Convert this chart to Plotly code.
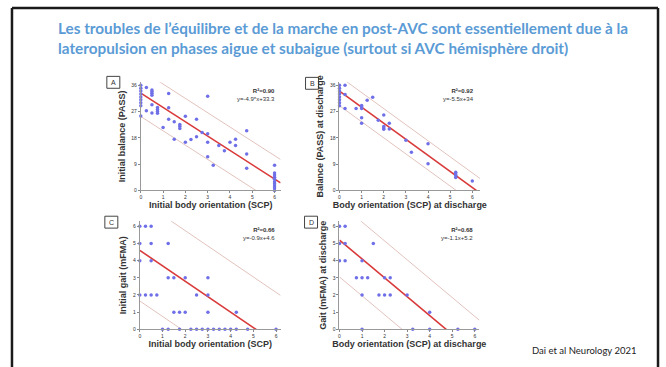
import plotly.graph_objects as go
import numpy as np

W, H = 666, 367

title_lines = ["Les troubles de l’équilibre et de la marche en post-AVC sont essentiellement due à la",
               "lateropulsion en phases aigue et subaigue (surtout si AVC hémisphère droit)"]
citation = "Dai et al Neurology 2021"

# Panel A: initial balance vs initial body orientation
a_x = [0]*9 + [0.25]*2 + [0.5]*6 + [0.75]*4 + [1] + [1.25]*3 + [1.5]*2 + [1.75]*3 + [2]*2 + [2.25] + [2.5]*2 + [2.75] + [3]*4 + [3.25, 3.5, 3.75, 4] + [4.25]*2 + [4.75]*3 + [6]*10
a_y = [36, 35, 34, 33, 32, 31, 30, 29, 25.5,
       35.2, 27.3,
       34.4, 33.9, 33.3, 32.6, 29.3, 26.5,
       28.4, 27.7, 27, 26.4,
       21.5,
       33.2, 28.3, 24.4,
       23.5, 17.5,
       22.6, 22, 21.2,
       25.4, 16.5,
       17.4,
       24.4, 18.4,
       19.8,
       32.2, 19.4, 16.5, 11.5,
       8.6, 15.4, 13.6, 16.5,
       17.5, 15.4,
       20.4, 12.5, 7.6,
       8.6, 6, 5.3, 4.5, 3.8, 3, 2.3, 1.5, 0.8, 0]

# Panel B: balance vs body orientation at discharge
b_x = [0]*8 + [0.25]*3 + [0.75] + [1]*5 + [1.25, 1.5, 1.75] + [2]*4 + [2.25]*2 + [3, 3.25] + [4]*2 + [5.25]*4 + [6]
b_y = [36, 35, 34, 33, 32, 31, 30, 29,
       36, 32.8, 28,
       28,
       29.1, 28.6, 28, 24.9, 23,
       30.9, 31.9, 24,
       25.8, 21.9, 21.4, 20.9,
       23, 21,
       17.2, 13.1,
       16, 9.1,
       6.2, 5.6, 5.1, 4.4,
       3.2]

# Panel C: initial gait vs initial body orientation
c_x = [0, 0.25, 0.5,
       0, 0.5, 1.25,
       0, 0.5,
       1.25, 1.5, 2, 3,
       0, 0.25, 0.5, 0.75, 2.5, 3,
       1.5, 1.75, 2, 3, 4.25,
       1, 1.25, 1.75, 2.25, 2.5, 2.75, 3, 3.25, 3.5, 3.75, 4, 4.25, 4.75, 6]
c_y = [6, 6, 6,
       5, 5, 5,
       4, 4,
       3, 3, 3, 3,
       2, 2, 2, 2, 2, 2,
       1, 1, 1, 1, 1,
       0, 0, 0, 0, 0, 0, 0, 0, 0, 0, 0, 0, 0, 0]

# Panel D: gait vs body orientation at discharge
d_x = [0, 0.25,
       0, 0.25, 1.5,
       0, 0.25, 1,
       0.75, 1, 1.25, 2, 2.25,
       1, 1.75, 2, 2.25, 3,
       4,
       1, 3.25, 4, 5.25, 6]
d_y = [6, 6,
       5, 5, 5,
       4, 4, 4,
       3, 3, 3, 3, 3,
       2, 2, 2, 2, 2,
       1,
       0, 0, 0, 0, 0]

# regression fits (slope, intercept, prediction band half-width), R2 text, equation text
fits = {
    "A": (-4.9, 33.3, 8.0, "R²=0.90", "y=-4.9*x+33.3"),
    "B": (-5.5, 34.0, 5.0, "R²=0.92", "y=-5.5x+34"),
    "C": (-0.9, 4.6, 2.95, "R²=0.66", "y=-0.9x+4.6"),
    "D": (-1.1, 5.2, 2.15, "R²=0.68", "y=-1.1x+5.2"),
}

x_titles = {"A": "Initial body orientation (SCP)", "B": "Body orientation (SCP) at discharge",
            "C": "Initial body orientation (SCP)", "D": "Body orientation (SCP) at discharge"}
y_titles = {"A": "Initial balance (PASS)", "B": "Balance (PASS) at discharge",
            "C": "Initial gait (mFMA)", "D": "Gait (mFMA) at discharge"}
y_ticks = {"A": [0, 9, 18, 27, 36], "B": [0, 9, 18, 27, 36],
           "C": [0, 1, 2, 3, 4, 5, 6], "D": [0, 1, 2, 3, 4, 5, 6]}
x_ticks = [0, 1, 2, 3, 4, 5, 6]

data = {"A": (a_x, a_y), "B": (b_x, b_y), "C": (c_x, c_y), "D": (d_x, d_y)}

# layout geometry (pixels)
geo = {
    "A": dict(x0=140, x1=280, y0=83, y1=192, xr=[0, 6.27], yr=[0, 37], box=(106, 77, 119, 89)),
    "B": dict(x0=339, x1=480, y0=83, y1=192, xr=[0, 6.36], yr=[0, 37], box=(305, 78, 318, 90)),
    "C": dict(x0=139, x1=280, y0=223, y1=332, xr=[0, 6.2], yr=[0, 6.3], box=(104, 218, 117, 230)),
    "D": dict(x0=339, x1=479, y0=223, y1=332, xr=[0, 6.2], yr=[0, 6.3], box=(304, 218, 317, 230)),
}

fig = go.Figure()
layout = dict(width=W, height=H, margin=dict(l=0, r=0, t=0, b=0),
              paper_bgcolor="white", plot_bgcolor="white", showlegend=False)
annotations = []
shapes = []

axis_font = dict(family="Liberation Sans, Arial", size=9, color="#333333")
tick_font = dict(family="Liberation Sans, Arial", size=5, color="#333333")

for i, key in enumerate(["A", "B", "C", "D"]):
    n = "" if i == 0 else str(i + 1)
    xa, ya = "x" + n, "y" + n
    g = geo[key]
    slope, icpt, band, r2, eq = fits[key]
    xs = np.array([g["xr"][0], g["xr"][1]])
    for off, col, wd in [(band, "#E2C3BD", 1), (-band, "#E2C3BD", 1), (0, "#D93A3A", 1.6)]:
        fig.add_trace(go.Scatter(x=xs, y=slope * xs + icpt + off, mode="lines",
                                 line=dict(color=col, width=wd), xaxis=xa, yaxis=ya,
                                 hoverinfo="skip"))
    px, py = data[key]
    fig.add_trace(go.Scatter(x=px, y=py, mode="markers", cliponaxis=False,
                             marker=dict(color="#6F6FE8", size=3.5), xaxis=xa, yaxis=ya))
    layout["xaxis" + n] = dict(domain=[g["x0"] / W, g["x1"] / W], range=g["xr"], anchor=ya,
                               tickvals=x_ticks, ticks="outside", ticklen=2, tickcolor="#888",
                               showline=True, linecolor="#999", linewidth=1, showgrid=False,
                               zeroline=False, tickfont=tick_font,
                               title=dict(text="<b>" + x_titles[key] + "</b>", font=axis_font, standoff=2))
    layout["yaxis" + n] = dict(domain=[1 - g["y1"] / H, 1 - g["y0"] / H], range=g["yr"], anchor=xa,
                               tickvals=y_ticks[key], ticks="outside", ticklen=2, tickcolor="#888",
                               showline=True, linecolor="#999", linewidth=1, showgrid=False,
                               zeroline=False, tickfont=tick_font,
                               title=dict(text="<b>" + y_titles[key] + "</b>", font=axis_font, standoff=4))
    annotations.append(dict(x=1, y=1, xref=xa + " domain", yref=ya + " domain",
                            text="<b>" + r2 + "</b><br>" + eq, showarrow=False,
                            xanchor="right", yanchor="top", align="right", xshift=-4, yshift=-4,
                            font=dict(family="Liberation Sans, Arial", size=6, color="#333")))
    bx0, by0, bx1, by1 = g["box"]
    shapes.append(dict(type="rect", xref="paper", yref="paper", x0=bx0 / W, x1=bx1 / W,
                       y0=1 - by1 / H, y1=1 - by0 / H, line=dict(color="#444", width=1)))
    annotations.append(dict(x=(bx0 + bx1) / 2 / W, y=1 - (by0 + by1) / 2 / H, xref="paper", yref="paper",
                            text=key, showarrow=False, xanchor="center", yanchor="middle",
                            font=dict(family="Liberation Sans, Arial", size=7, color="#333")))

# slide border (left, top, right)
for (x0, y0, x1, y1) in [(11, 8, 11, H + 5), (11, 8, 658, 8), (658, 8, 658, H + 5)]:
    shapes.append(dict(type="line", xref="paper", yref="paper", x0=x0 / W, x1=x1 / W,
                       y0=1 - y0 / H, y1=1 - y1 / H, line=dict(color="#1a1a1a", width=2.5)))

for k, line in enumerate(title_lines):
    annotations.append(dict(x=55 / W, y=1 - (28 + 20 * k) / H, xref="paper", yref="paper",
                            text="<b>" + line + "</b>", showarrow=False, xanchor="left", yanchor="middle",
                            font=dict(family="Lato", size=15.3, color="#5B9BD5")))

annotations.append(dict(x=530 / W, y=1 - 353 / H, xref="paper", yref="paper", text=citation,
                        showarrow=False, xanchor="left", yanchor="middle",
                        font=dict(family="Lato", size=9.5, color="#222")))

layout["annotations"] = annotations
layout["shapes"] = shapes
fig.update_layout(**layout)
fig.write_html("out.html", config={"displayModeBar": False},
               post_script="document.body.style.margin='0';document.body.style.overflow='hidden';")
